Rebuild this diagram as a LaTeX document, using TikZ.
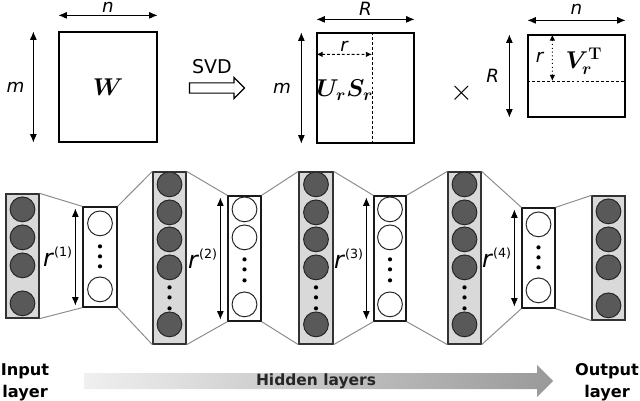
\documentclass[tikz,border=0pt]{standalone}
\usepackage{amsmath,bm}
\usepackage[no-math]{fontspec}
\setmainfont{DejaVu Sans}
\usetikzlibrary{arrows.meta,calc,fit,shapes.arrows}

\tikzset{
  matbox/.style={draw, line width=0.9pt, inner sep=0pt},
  dimarr/.style={{Latex[length=6pt,width=5pt]}-{Latex[length=6pt,width=5pt]}, line width=0.8pt},
  smallarr/.style={{Latex[length=4.5pt,width=4pt]}-{Latex[length=4.5pt,width=4pt]}, line width=0.7pt},
  dimlab/.style={font=\fontsize{13}{15}\selectfont\itshape, inner sep=0pt},
  mathlab/.style={font=\fontsize{17}{19}\selectfont, inner sep=0pt},
  greylayer/.style={draw=black!80, fill=black!15, line width=0.9pt, inner sep=0pt},
  whitelayer/.style={draw=black!90, fill=white, line width=0.9pt, inner sep=0pt},
  darkunit/.style={circle, draw=black!85, fill=black!65, line width=0.7pt, minimum size=0.62cm, inner sep=0pt},
  whiteunit/.style={circle, draw=black!85, fill=white, line width=0.7pt, minimum size=0.62cm, inner sep=0pt},
  dotunit/.style={circle, fill=black, minimum size=3pt, inner sep=0pt},
  link/.style={draw=black!45, line width=0.7pt},
  rlab/.style={font=\fontsize{17}{19}\selectfont, inner sep=0pt},
  iolab/.style={font=\fontsize{11.5}{15.6}\selectfont\bfseries, align=center, inner sep=0pt}
}

\begin{document}
\begin{tikzpicture}[x=0.025cm, y=-0.025cm]
    \useasboundingbox (0,0) rectangle (640,401);

    % 原矩阵 W
    \node[matbox, fit={(59,32) (157,142)}] (W) {};
    \node[mathlab] (Wlab) at (W.center) {$\bm{W}$};
    \draw[dimarr] ($(W.north west)+(0,-16)$) -- node[dimlab, above=1.5pt] (Wn) {n} ($(W.north east)+(0,-16)$);
    \draw[dimarr] ($(W.north west)+(-25,0)$) -- node[dimlab, left=6pt] (Wm) {m} ($(W.south west)+(-25,0)$);

    % SVD 空心箭头
    \node[single arrow, draw, fill=white, line width=0.8pt, minimum height=1.375cm,
          single arrow head extend=0.1375cm, inner xsep=0pt, inner ysep=0.1125cm] (svd) at (214.5,88) {};
    \node[font=\fontsize{13.5}{15}\selectfont] (svdlab) at (212,67) {SVD};

    % 左因子 U_r S_r
    \node[matbox, fit={(317,33) (414,143)}] (US) {};
    \draw[dash pattern=on 2pt off 1.5pt, line width=0.7pt]
        ($(US.north west)!0.567!(US.north east)$) coordinate (UStop) -- ($(US.south west)!0.567!(US.south east)$);
    \draw[smallarr, dash pattern=on 2pt off 1.5pt] ($(US.north west)+(0,22)$) -- node[dimlab, above=2pt] (USr) {r} ($(UStop)+(0,22)$);
    \node[mathlab] (USlab) at (345,90) {$\bm{U}_{\bm{r}}\bm{S}_{\bm{r}}$};
    \draw[dimarr] ($(US.north west)+(-15,0)$) -- node[dimlab, left=7pt] (USm) {m} ($(US.south west)+(-15,0)$);
    \draw[dimarr] ($(US.north west)+(0,-13)$) -- node[dimlab, above=2.5pt] (USR) {R} ($(US.north east)+(0,-13)$);

    \node[font=\fontsize{20}{20}\selectfont] (times) at (462,93) {$\times$};

    % 右因子 V_r^T
    \node[matbox, fit={(528,35) (625,117)}] (VT) {};
    \draw[dash pattern=on 2pt off 1.5pt, line width=0.7pt]
        ($(VT.north west)!0.561!(VT.south west)$) coordinate (VTl) -- ($(VT.north east)!0.561!(VT.south east)$);
    \draw[smallarr, dotted] ($(VT.north west)+(25,0)$) -- node[dimlab, left=6pt] (VTr) {r} ($(VTl)+(25,0)$);
    \node[mathlab] (VTlab) at (584,61) {$\bm{V}_{\bm{r}}^{\mathbf{T}}$};
    \draw[dimarr] ($(VT.north west)+(-18,0)$) -- node[dimlab, left=7pt] (VTR) {R} ($(VT.south west)+(-18,0)$);
    \draw[dimarr] ($(VT.north west)+(0,-14)$) -- node[dimlab, above=3.5pt] (VTn) {n} ($(VT.north east)+(0,-14)$);

    % 各层矩形
    \foreach \name/\xl/\yt/\xr/\yb/\sty in {L1/6/194/39/318/greylayer, L2/83/207/117/307/whitelayer,
        L3/153/172/186/344/greylayer, L4/228/196/261/321/whitelayer, L5/299/172/333/344/greylayer,
        L6/374/196/406/321/whitelayer, L7/448/172/481/344/greylayer, L8/522/208/555/308/whitelayer,
        L9/592/196/625/320/greylayer}
        \node[\sty, fit={(\xl,\yt) (\xr,\yb)}] (\name) {};

    % 层间连线
    \foreach \a/\b in {L1/L2, L2/L3, L3/L4, L4/L5, L5/L6, L6/L7, L7/L8, L8/L9}{
        \draw[link] (\a.north east) -- (\b.north west);
        \draw[link] (\a.south east) -- (\b.south west);
    }

    % 深色神经元
    \foreach \name in {L1,L9}
        \foreach \off [count=\i] in {16,44,72,110}
            \node[darkunit] (\name-\i) at ($(\name.north)+(0,\off)$) {};
    \foreach \name in {L3,L5,L7}{
        \foreach \off [count=\i] in {13,41,68,96,153}
            \node[darkunit] (\name-\i) at ($(\name.north)+(0,\off)$) {};
        \foreach \off [count=\i] in {116,126,137}
            \node[dotunit] (\name-d\i) at ($(\name.north)+(0,\off)$) {};
    }

    % 白色神经元（低秩层）
    \foreach \name in {L2,L8}{
        \foreach \off [count=\i] in {17,83}
            \node[whiteunit] (\name-\i) at ($(\name.north)+(0,\off)$) {};
        \foreach \off [count=\i] in {40,50,60}
            \node[dotunit] (\name-d\i) at ($(\name.north)+(0,\off)$) {};
    }
    \foreach \name in {L4,L6}{
        \foreach \off [count=\i] in {14,42,109}
            \node[whiteunit] (\name-\i) at ($(\name.north)+(0,\off)$) {};
        \foreach \off [count=\i] in {64,74,85}
            \node[dotunit] (\name-d\i) at ($(\name.north)+(0,\off)$) {};
    }

    % 秩 r^(k) 标注
    \foreach \name/\k in {L2/1, L4/2, L6/3, L8/4}{
        \draw[dimarr] ($(\name.north west)+(-7,2)$) coordinate (top\k) -- ($(\name.south west)+(-7,-2)$) coordinate (bot\k);
        \node[rlab, anchor=east] (r\k) at ($(top\k)!0.5!(bot\k)+(-3,0)$)
            {\textit{r}\raisebox{0.75ex}{\fontsize{9}{9}\selectfont(\k)}};
    }

    % 输入层、隐藏层、输出层
    \shade[left color=black!6, right color=black!40]
        (84,373) -- (537,373) -- (537,365) -- (553,381) -- (537,397) -- (537,389) -- (84,389) -- cycle;
    \node[font=\fontsize{11}{12}\selectfont\bfseries, text=black!85] (hidden) at (316,381) {Hidden layers};
    \node[iolab] (input) at (25,382) {Input\\layer};
    \node[iolab] (output) at (607,382) {Output\\layer};
\end{tikzpicture}
\end{document}
